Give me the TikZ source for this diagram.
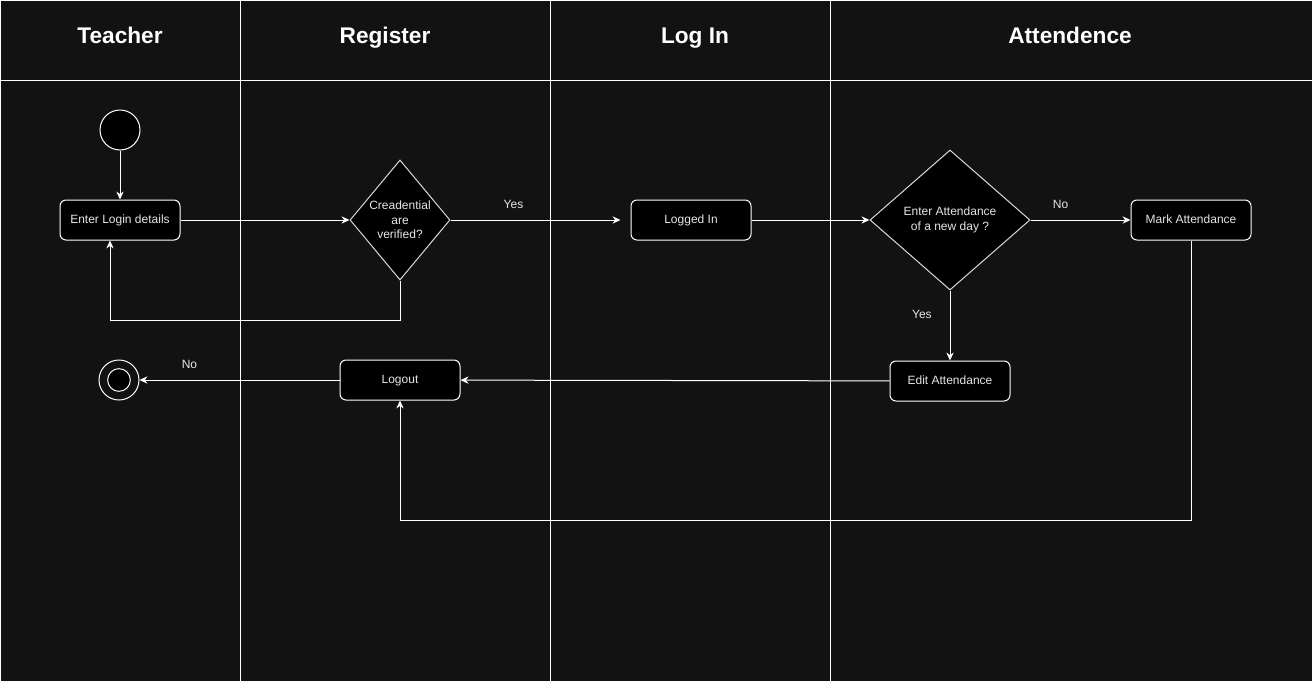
\documentclass[tikz,border=0pt]{standalone}
\usepackage{fontspec}
\setmainfont{Liberation Sans}
\usepackage{tikz}
\usetikzlibrary{positioning, arrows.meta, shapes.geometric, calc}
\definecolor{bgdark}{HTML}{121212}
\definecolor{txtgray}{HTML}{E6E6E6}
\newcommand{\smallfont}{\fontsize{9}{10.8}\selectfont}
\tikzset{
    lane/.style={draw=white, line width=0.75pt},
    lanetitle/.style={text=white, anchor=base, font=\fontsize{17}{20}\selectfont\bfseries},
    action/.style={rectangle, rounded corners=4.5pt, draw=white, fill=black, text=txtgray,
        minimum width=90pt, minimum height=30pt, text height=6.5pt, text depth=2pt,
        font=\smallfont, line width=0.75pt},
    decision/.style={diamond, draw=white!85!black, fill=black, text=txtgray, inner sep=0pt,
        align=center, font=\smallfont, line width=0.75pt},
    flow/.style={draw=white, line width=0.75pt, -{Stealth[length=6pt, width=5.5pt]}},
    guard/.style={text=txtgray, font=\smallfont},
}

\begin{document}
\begin{tikzpicture}[x=0.75pt, y=-0.75pt]
    % background and swimlanes
    \useasboundingbox (0,0) rectangle (1313,682);
    \fill[bgdark] (0,0) rectangle (1313,682);
    \draw[lane] (0.5,0.5) rectangle (1312.5,681.5);
    \draw[lane] (0,80) -- (1313,80);
    \foreach \x in {240, 550, 830}
      \draw[lane] (\x,0) -- (\x,682);

    \node[lanetitle] (tteacher) at (120,43) {Teacher};
    \node[lanetitle] (tregister) at (385,43) {Register};
    \node[lanetitle] (tlogin) at (695,43) {Log In};
    \node[lanetitle] (tattend) at (1070,43) {Attendence};

    % states
    \node[circle, draw=white, fill=black, line width=0.75pt, minimum size=30pt] (start) at (120,130) {};
    \node[action] (login) at (120,220) {Enter Login details};
    \node[decision, minimum width=75pt, minimum height=90pt] (cred) at (400,220) {Creadential\\are\\verified?};
    \node[action, right=135pt of cred] (loggedin) {Logged In};
    \node[decision, minimum width=120pt, minimum height=105pt] (newday) at (950,220) {Enter Attendance\\of a new day ?};
    \node[action, right=75pt of newday] (mark) {Mark Attendance};
    \node[action, below=52.5pt of newday] (edit) {Edit Attendance};
    \node[action] (logout) at (400,380) {Logout};
    \node[circle, draw=white, line width=0.75pt, minimum size=30pt, left=150pt of logout] (stop) {};
    \draw[white, fill=black, line width=0.75pt] (stop) circle (8.5pt);

    % transitions
    \draw[flow] (start) -- (login);
    \draw[flow] (login) -- (cred);
    \draw[flow, shorten >=7.5pt] (cred) -- node[guard, pos=0.35, above=4.5pt] {Yes} (loggedin);
    \draw[flow] (cred.south) -- ++(0,40) -| ($(login.south)+(-10,0)$);
    \draw[flow] (loggedin) -- (newday);
    \draw[flow] (newday) -- node[guard, pos=0.3, above=4.5pt] {No} (mark);
    \draw[flow] (newday) -- node[guard, pos=0.34, left=10pt] {Yes} (edit);
    \draw[flow] (edit) -- (logout);
    \draw[flow] (mark.south) -- ++(0,280) -| (logout.south);
    \draw[flow] (logout) -- node[guard, pos=0.75, above=4.5pt] {No} (stop);
\end{tikzpicture}
\end{document}
